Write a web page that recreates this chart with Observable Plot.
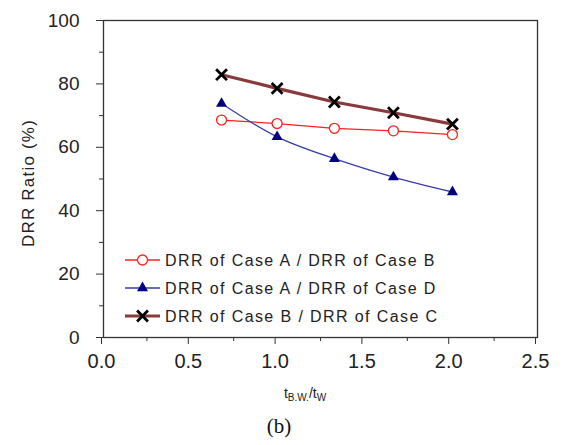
<!DOCTYPE html>
<html>
<head>
<meta charset="utf-8">
<script src="https://cdn.jsdelivr.net/npm/d3@7"></script>
<script src="https://cdn.jsdelivr.net/npm/@observablehq/plot@0.6"></script>
<style>
  body { margin: 0; background: white; }
</style>
</head>
<body>
<div id="chart"></div>
<script>
// ---- data ----
const xVals = [0.68, 1.0, 1.33, 1.67, 2.01];
const ratioAB = [68.6, 67.5, 66.0, 65.2, 64.0];
const ratioAD = [73.8, 63.3, 56.4, 50.6, 45.9];
const ratioBC = [82.9, 78.6, 74.3, 70.9, 67.3];
const seriesNames = [
  "DRR of Case A / DRR of Case B",
  "DRR of Case A / DRR of Case D",
  "DRR of Case B / DRR of Case C"
];
const yMajor = [0, 20, 40, 60, 80, 100];
const yMinor = [10, 30, 50, 70, 90];
const xMajor = [0, 0.5, 1.0, 1.5, 2.0, 2.5];
const xMinor = [0.25, 0.75, 1.25, 1.75, 2.25];
const yTitle = "DRR Ratio (%)";
const caption = "(b)";

const toRows = ys => xVals.map((x, i) => ({x, y: ys[i]}));
const dAB = toRows(ratioAB), dAD = toRows(ratioAD), dBC = toRows(ratioBC);

const RED = "#ff2020", BLUE = "#3b3ba6", NAVY = "#000080", BROWN = "#8a3a3a";
const AX = "#333";
const FONT = "Liberation Sans, Arial, sans-serif";

const plot = Plot.plot({
  width: 563, height: 445,
  marginLeft: 103, marginRight: 26, marginTop: 20, marginBottom: 108,
  x: {domain: [0, 2.5]},
  y: {domain: [0, 100]},
  style: {fontFamily: FONT, background: "white", color: "#222"},
  marks: [
    Plot.axisY({ticks: yMajor, tickSize: 7, tickPadding: 17, fontSize: 19, label: null, stroke: AX, tickFormat: d => d}),
    Plot.axisY({ticks: yMinor, tickSize: 4, label: null, stroke: AX, tickFormat: () => ""}),
    Plot.axisX({ticks: xMajor, tickSize: 7, tickPadding: 9, fontSize: 20, label: null, stroke: AX, tickFormat: d3.format(".1f"), dx: -2}),
    Plot.axisX({ticks: xMinor, tickSize: 4, label: null, stroke: AX, tickFormat: () => ""}),
    Plot.frame({stroke: AX, strokeWidth: 1.3}),
    Plot.line(dAB, {x: "x", y: "y", stroke: RED, strokeWidth: 1.3}),
    Plot.line(dAD, {x: "x", y: "y", stroke: BLUE, strokeWidth: 1.3, curve: "catmull-rom"}),
    Plot.line(dBC, {x: "x", y: "y", stroke: BROWN, strokeWidth: 3.2}),
    Plot.dot(dAB, {x: "x", y: "y", symbol: "circle", r: 5, stroke: RED, fill: "white", strokeWidth: 1.3}),
    Plot.dot(dAD, {x: "x", y: "y", symbol: "triangle", r: 4.1, fill: NAVY, stroke: "none"}),
    Plot.dot(dBC, {x: "x", y: "y", symbol: "times", r: 5, stroke: "#000", strokeWidth: 2.8})
  ]
});

const svg = d3.select(plot);

// make sure tick label fonts are the intended size
svg.selectAll('g[aria-label="y-axis tick label"]').attr("font-size", 19).style("font-size", "19px");
svg.selectAll('g[aria-label="x-axis tick label"]').attr("font-size", 20).style("font-size", "20px");

// legend
const legendRows = [
  {name: seriesNames[0], color: RED, kind: "circle"},
  {name: seriesNames[1], color: BLUE, kind: "triangle"},
  {name: seriesNames[2], color: BROWN, kind: "times"}
];
const lg = svg.append("g").attr("text-anchor", "start").attr("font-family", FONT);
legendRows.forEach((r, i) => {
  const cy = 260 + i * 28;
  const g = lg.append("g");
  g.append("line").attr("x1", 125).attr("x2", 160).attr("y1", cy).attr("y2", cy)
    .attr("stroke", r.color).attr("stroke-width", r.kind === "times" ? 3.2 : 1.3);
  if (r.kind === "circle") {
    g.append("circle").attr("cx", 142.5).attr("cy", cy).attr("r", 5)
      .attr("fill", "white").attr("stroke", RED).attr("stroke-width", 1.3);
  } else if (r.kind === "triangle") {
    g.append("path").attr("d", d3.symbol(d3.symbolTriangle, Math.PI * 4.1 * 4.1)())
      .attr("transform", `translate(142.5,${cy})`).attr("fill", NAVY);
  } else {
    g.append("path").attr("d", d3.symbol(d3.symbolTimes, Math.PI * 25)())
      .attr("transform", `translate(142.5,${cy})`).attr("fill", "none")
      .attr("stroke", "#000").attr("stroke-width", 2.8);
  }
  g.append("text").attr("x", 165).attr("y", cy).attr("dy", "0.35em")
    .attr("text-anchor", "start")
    .attr("font-size", 16).attr("letter-spacing", 1.4).attr("fill", "#222")
    .text(r.name);
});

// y-axis title
svg.append("text")
  .attr("transform", "translate(28,183) rotate(-90)")
  .attr("text-anchor", "middle").attr("dy", "0.35em")
  .attr("font-size", 17).attr("letter-spacing", 1.2).attr("fill", "#222")
  .text(yTitle);

// x-axis title with subscripts
const xt = svg.append("text")
  .attr("x", 305).attr("y", 398).attr("text-anchor", "middle")
  .attr("font-size", 14).attr("fill", "#222");
xt.append("tspan").text("t");
xt.append("tspan").attr("font-size", 10).attr("dy", 3).text("B.W.");
xt.append("tspan").attr("dy", -3).text("/t");
xt.append("tspan").attr("font-size", 10).attr("dy", 3).text("W");

// caption
svg.append("text")
  .attr("x", 279).attr("y", 433).attr("text-anchor", "middle")
  .attr("font-family", "Liberation Serif, Times New Roman, serif")
  .attr("font-size", 21).attr("fill", "#111")
  .text(caption);

document.getElementById("chart").appendChild(plot);
</script>
</body>
</html>
